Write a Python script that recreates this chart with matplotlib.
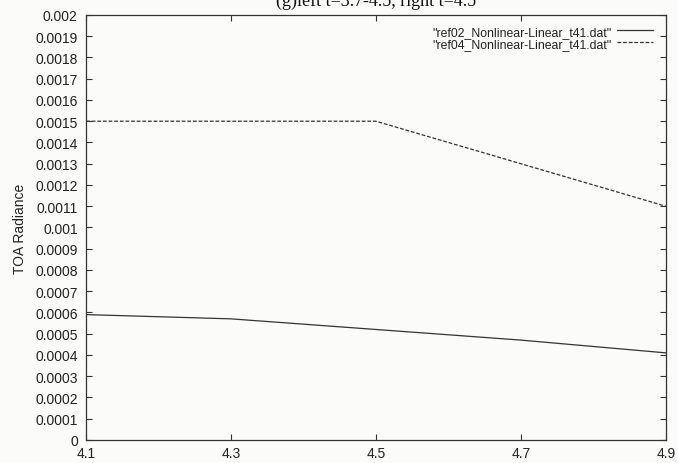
import matplotlib
matplotlib.use('Agg')
import matplotlib.pyplot as plt
from matplotlib.ticker import FuncFormatter

# data
x_vals = [4.1, 4.3, 4.5, 4.7, 4.9]
ref02 = [0.00059, 0.00057, 0.00052, 0.00047, 0.00041]
ref04 = [0.0015, 0.0015, 0.0015, 0.0013, 0.0011]
x_ticks = [4.1, 4.3, 4.5, 4.7, 4.9]
y_ticks = [i * 0.0001 for i in range(21)]

plt.rcParams['font.family'] = ['Liberation Sans', 'DejaVu Sans']
bg = '#fbfbf9'
ink = '#333333'

fig = plt.figure(figsize=(6.78, 4.64), dpi=100, facecolor=bg)
ax = fig.add_axes([0.127, 0.0496, 0.855, 0.916])
ax.set_facecolor(bg)

ax.plot(x_vals, ref02, ls='-', c=ink, lw=0.9, label='"ref02_Nonlinear-Linear_t41.dat"')
ax.plot(x_vals, ref04, ls=(0, (3, 1.5)), c=ink, lw=0.9, label='"ref04_Nonlinear-Linear_t41.dat"')

ax.set_xlim(4.1, 4.9)
ax.set_ylim(0, 0.002)
ax.set_xticks(x_ticks)
ax.set_yticks(y_ticks)
ax.xaxis.set_major_formatter(FuncFormatter(lambda v, p: '%g' % round(v, 4)))
ax.yaxis.set_major_formatter(FuncFormatter(lambda v, p: '%g' % round(v, 6)))
ax.tick_params(direction='in', length=4, width=0.8, color=ink, labelsize=10,
               labelcolor='#222222', top=True, right=True)
ax.tick_params(axis='x', pad=4)
ax.tick_params(axis='y', pad=6)
for s in ax.spines.values():
    s.set_color(ink)
    s.set_linewidth(0.9)

ax.set_ylabel('TOA Radiance', fontsize=10, color='#222222', labelpad=6)

leg = ax.legend(loc='upper right', bbox_to_anchor=(0.993, 0.995), frameon=False,
                markerfirst=False, fontsize=8.8, handlelength=3.0, handletextpad=0.4,
                labelspacing=0.0, borderpad=0.2)
for t in leg.get_texts():
    t.set_color('#222222')

# title is cut by the top edge in the original scan
fig.text(0.555, 1 - 6 / 464, '(g)left t=3.7-4.5, right t=4.5', family='Liberation Serif',
         fontsize=13, ha='center', va='baseline', color='#111111')

fig.savefig('out.png', dpi=100, facecolor=bg)
